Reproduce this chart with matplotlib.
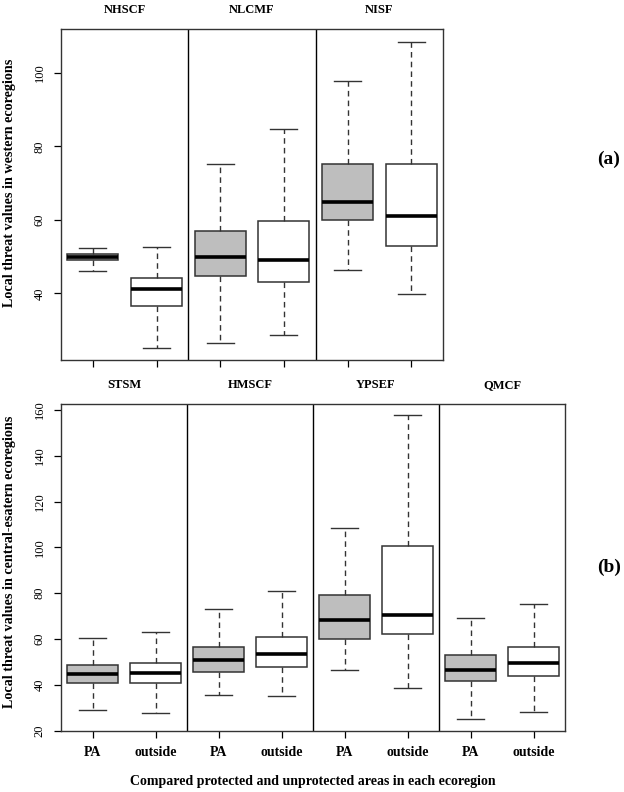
import matplotlib
matplotlib.use("Agg")
import matplotlib.pyplot as plt

plt.rcParams['font.family'] = ['Liberation Serif', 'DejaVu Serif']

# Top panel (western ecoregions)
top_groups = ["NHSCF", "NLCMF", "NISF"]
top_low = [46.1, 25.2, 26.6, 28.6, 46.4, 39.9]
top_q1 = [49.1, 36.5, 44.7, 43.1, 59.9, 52.9]
top_med = [50.0, 41.1, 50.0, 49.2, 64.8, 61.0]
top_q3 = [50.6, 44.3, 57.0, 59.6, 75.1, 75.2]
top_high = [52.3, 52.7, 75.1, 84.7, 97.7, 108.5]

# Bottom panel (central-eastern ecoregions)
bot_groups = ["STSM", "HMSCF", "YPSEF", "QMCF"]
bot_low = [28.8, 27.5, 35.4, 34.9, 46.4, 38.6, 24.9, 27.9]
bot_q1 = [40.6, 40.6, 45.4, 47.9, 60.1, 62.2, 41.8, 43.9]
bot_med = [44.7, 45.0, 50.8, 53.6, 68.4, 70.5, 46.6, 49.5]
bot_q3 = [48.5, 49.6, 56.4, 61.0, 79.4, 100.7, 52.9, 56.4]
bot_high = [60.4, 62.9, 73.0, 81.1, 108.5, 157.8, 69.3, 75.4]

kinds = ["PA", "outside"]
fills = {"PA": "#bebebe", "outside": "white"}

W, H = 624, 792
fig = plt.figure(figsize=(W / 100, H / 100), dpi=100)

ax1 = fig.add_axes([61 / W, 1 - 360 / H, 382 / W, 331 / H])
ax2 = fig.add_axes([61 / W, 1 - 731 / H, 504 / W, 327 / H])


def draw(ax, groups, low, q1, med, q3, high, yticks, ylim, show_xlabels, title_gap):
    n = len(low)
    stats = []
    for i in range(n):
        stats.append(dict(whislo=low[i], q1=q1[i], med=med[i], q3=q3[i],
                          whishi=high[i], fliers=[]))
    pos = list(range(1, n + 1))
    bp = ax.bxp(stats, positions=pos, widths=0.8, patch_artist=True,
                showfliers=False,
                boxprops=dict(edgecolor="#333333", linewidth=1.1),
                medianprops=dict(color="black", linewidth=2.6, solid_capstyle="butt"),
                whiskerprops=dict(color="#333333", linewidth=1.0, linestyle=(0, (4, 3))),
                capprops=dict(color="#333333", linewidth=1.0),
                capwidths=0.42)
    for i, patch in enumerate(bp["boxes"]):
        patch.set_facecolor(fills[kinds[i % 2]])
    ax.set_xlim(0.5, n + 0.5)
    ax.set_ylim(*ylim)
    for k in range(1, len(groups)):
        ax.axvline(2 * k + 0.5, color="black", linewidth=1.0)
    ax.set_xticks(pos)
    if show_xlabels:
        ax.set_xticklabels([kinds[i % 2] for i in range(n)], fontsize=10,
                           fontweight="bold")
    else:
        ax.set_xticklabels([])
    ax.set_yticks(yticks)
    ax.set_yticklabels([str(t) for t in yticks], rotation=90, va="center",
                       fontsize=9)
    ax.tick_params(axis="both", direction="out", length=5, width=0.9, pad=6)
    for s in ax.spines.values():
        s.set_linewidth(1.0)
        s.set_color("#333333")
    for k, g in enumerate(groups):
        ax.text(2 * k + 1.5, 1.0 + title_gap, g, transform=ax.get_xaxis_transform(),
                ha="center", va="bottom", fontsize=9, fontweight="bold")


draw(ax1, top_groups, top_low, top_q1, top_med, top_q3, top_high,
     [40, 60, 80, 100], (21.9, 111.9), False, 13 / 331)
draw(ax2, bot_groups, bot_low, bot_q1, bot_med, bot_q3, bot_high,
     [20, 40, 60, 80, 100, 120, 140, 160], (19.8, 162.6), True, 13 / 327)

fig.text(10 / W, 1 - 183 / H, "Local threat values in western ecoregions",
         rotation=90, ha="center", va="center", fontsize=10.2, fontweight="bold")
fig.text(10 / W, 1 - 562 / H, "Local threat values in central-esatern ecoregions",
         rotation=90, ha="center", va="center", fontsize=10.2, fontweight="bold")
fig.text(313 / W, 1 - 781 / H,
         "Compared protected and unprotected areas in each ecoregion",
         ha="center", va="center", fontsize=10, fontweight="bold")
fig.text(609 / W, 1 - 159 / H, "(a)", ha="center", va="center", fontsize=14,
         fontweight="bold")
fig.text(609 / W, 1 - 567 / H, "(b)", ha="center", va="center", fontsize=14,
         fontweight="bold")

fig.savefig("out.png", dpi=100)
